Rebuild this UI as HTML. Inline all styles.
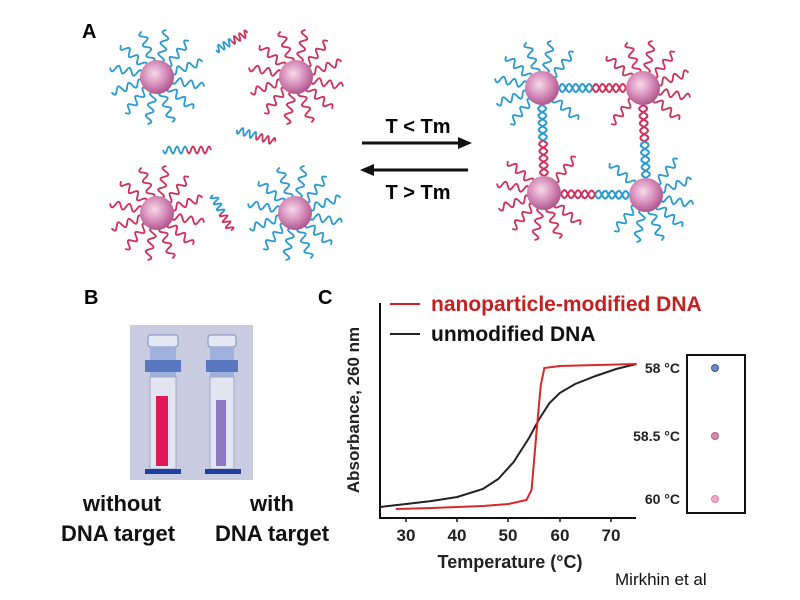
<!DOCTYPE html>
<html><head><meta charset="utf-8"><style>
html,body{margin:0;padding:0;background:#fff;width:800px;height:600px;overflow:hidden}
svg{display:block}
text{font-family:"Liberation Sans",sans-serif}
</style></head><body>
<svg id="s" width="800" height="600" viewBox="0 0 800 600" xmlns="http://www.w3.org/2000/svg">
<defs>
<radialGradient id="pg" cx="0.42" cy="0.4" r="0.6">
<stop offset="0" stop-color="#f6dcea"/><stop offset="0.55" stop-color="#d890bc"/><stop offset="1" stop-color="#b0588e"/>
</radialGradient>
</defs>
<g id="strands"></g>
<g id="parts"></g>
<text x="82" y="38" font-size="20" font-weight="bold">A</text>
<text x="84" y="304" font-size="20" font-weight="bold">B</text>
<text x="318" y="304" font-size="20" font-weight="bold">C</text>
<line x1="362" y1="143" x2="460" y2="143" stroke="#111" stroke-width="3"/>
<polygon points="458,137 472,143 458,149" fill="#111"/>
<line x1="372" y1="170" x2="468" y2="170" stroke="#111" stroke-width="3"/>
<polygon points="374,164 360,170 374,176" fill="#111"/>
<text x="418" y="133" font-size="20" font-weight="bold" text-anchor="middle">T &lt; Tm</text>
<text x="418" y="199" font-size="20" font-weight="bold" text-anchor="middle">T &gt; Tm</text>
<rect x="130" y="325" width="123" height="155" fill="#c9cbe0"/>
<g>
<rect x="148" y="335" width="30" height="12" rx="3" fill="#e4e8f2" stroke="#7a90c0"/>
<rect x="150" y="347" width="26" height="30" fill="#9fb0dc"/>
<rect x="145" y="360" width="36" height="12" fill="#5a78c0"/>
<rect x="150" y="377" width="26" height="92" fill="#e2e4ef" stroke="#a0a8c8"/>
<rect x="156" y="396" width="12" height="70" fill="#e01858"/>
<rect x="145" y="469" width="36" height="5" fill="#2040a0"/>
<rect x="208" y="335" width="28" height="12" rx="3" fill="#e4e8f2" stroke="#7a90c0"/>
<rect x="210" y="347" width="24" height="30" fill="#9fb0dc"/>
<rect x="206" y="360" width="32" height="12" fill="#5a78c0"/>
<rect x="210" y="377" width="24" height="92" fill="#e2e4ef" stroke="#a0a8c8"/>
<rect x="216" y="400" width="10" height="66" fill="#8a78c0"/>
<rect x="205" y="469" width="36" height="5" fill="#2040a0"/>
</g>
<g font-size="22" font-weight="bold" text-anchor="middle" fill="#111">
<text x="122" y="511">without</text>
<text x="118" y="541">DNA target</text>
<text x="272" y="511">with</text>
<text x="272" y="541">DNA target</text>
</g>
<polyline points="380,303 380,518 636,518" fill="none" stroke="#111" stroke-width="2"/>
<g stroke="#111" stroke-width="1.5">
<line x1="406" y1="518" x2="406" y2="522"/><line x1="457" y1="518" x2="457" y2="522"/>
<line x1="508" y1="518" x2="508" y2="522"/><line x1="560" y1="518" x2="560" y2="522"/>
<line x1="611" y1="518" x2="611" y2="522"/>
</g>
<g font-size="17" font-weight="bold" text-anchor="middle" fill="#222">
<text x="406" y="541">30</text><text x="457" y="541">40</text><text x="508" y="541">50</text><text x="560" y="541">60</text><text x="611" y="541">70</text>
<text x="510" y="568" font-size="18">Temperature (°C)</text>
<text transform="translate(359,410) rotate(-90)" font-size="17">Absorbance, 260 nm</text>
</g>
<line x1="390" y1="304" x2="420" y2="304" stroke="#d02020" stroke-width="2"/>
<text x="431" y="311" font-size="21" font-weight="bold" fill="#c42020">nanoparticle-modified DNA</text>
<line x1="390" y1="334" x2="420" y2="334" stroke="#222" stroke-width="2"/>
<text x="431" y="341" font-size="21" font-weight="bold" fill="#111">unmodified DNA</text>
<polyline id="blk" fill="none" stroke="#222" stroke-width="2"/>
<polyline id="red" fill="none" stroke="#d82828" stroke-width="2"/>
<g font-size="14" font-weight="bold" text-anchor="end" fill="#222">
<text x="680" y="373">58 °C</text><text x="680" y="441">58.5 °C</text><text x="680" y="504">60 °C</text>
</g>
<rect x="687" y="355" width="58" height="158" fill="#fff" stroke="#111" stroke-width="2"/>
<circle cx="715" cy="368" r="3.5" fill="#6a8ac8" stroke="#4a5a90"/>
<circle cx="715" cy="436" r="3.5" fill="#d88aa8" stroke="#b06080"/>
<circle cx="715" cy="499" r="3.5" fill="#f0a8c0" stroke="#d888a0"/>
<text x="615" y="585" font-size="17" fill="#111">Mirkhin et al</text>
</svg>
<script>
function X(t){return 406+(t-30)*5.125}
var red=[[28,509],[35,508],[40,507],[45,506],[50,504],[53.5,500],[54.5,490],[55.5,430],[56.3,385],[57,368],[60,366],[75,364]];
var blk=[[25,507],[30,504],[35,501],[40,497],[45,489],[48,479],[51,462],[54,438],[56,419],[58,403],[60,393],[63,384],[67,376],[71,369],[75,364]];
document.getElementById('red').setAttribute('points',red.map(p=>X(p[0])+','+p[1]).join(' '));
document.getElementById('blk').setAttribute('points',blk.map(p=>X(p[0])+','+p[1]).join(' '));
var NS="http://www.w3.org/2000/svg",sg=document.getElementById('strands'),pg=document.getElementById('parts');
var B="#2a9ad0",R="#d0305a";
function wave(x0,y0,ang,len,col,amp){
 var d="",n=40,dx=Math.cos(ang),dy=Math.sin(ang);
 for(var i=0;i<=n;i++){var s=i/n*len,w=amp*Math.sin(s/len*Math.PI*6);
  var x=x0+dx*s-dy*w,y=y0+dy*s+dx*w;d+=(i?"L":"M")+x.toFixed(1)+","+y.toFixed(1);}
 var p=document.createElementNS(NS,'path');p.setAttribute('d',d);p.setAttribute('stroke',col);
 p.setAttribute('fill','none');p.setAttribute('stroke-width','1.8');sg.appendChild(p);}
function particle(cx,cy,col,skip){
 for(var k=0;k<12;k++){var a=k/12*2*Math.PI+0.2;
  var ok=true;(skip||[]).forEach(function(s){var d=Math.abs(((a-s+3*Math.PI)%(2*Math.PI))-Math.PI);if(d<0.35)ok=false;});
  if(!ok)continue;
  wave(cx+Math.cos(a)*15,cy+Math.sin(a)*15,a,33,col,3.5);}
 var c=document.createElementNS(NS,'circle');c.setAttribute('cx',cx);c.setAttribute('cy',cy);c.setAttribute('r',17);
 c.setAttribute('fill','url(#pg)');pg.appendChild(c);}
particle(157,77,B);particle(296,77,R);particle(157,213,R);particle(295,213,B);
function free(x,y,a,len){wave(x,y,a,len/2,B,3.5);wave(x+Math.cos(a)*len/2,y+Math.sin(a)*len/2,a,len/2,R,3.5);}
free(216,50,-0.5,36);free(163,150,0,48);free(237,130,0.3,40);free(213,195,1.1,40);
function helix(x1,y1,x2,y2,c1,c2){
 var L=Math.hypot(x2-x1,y2-y1),dx=(x2-x1)/L,dy=(y2-y1)/L;
 [[c1,0],[c2,0.5]].forEach(function(h,hi){
  for(var part=0;part<2;part++){var d="",col=part?c2:c1;
   for(var i=0;i<=30;i++){var s=(part*0.5+i/30*0.5)*L,w=4*Math.sin(s/L*Math.PI*10+hi*Math.PI);
    var x=x1+dx*s-dy*w,y=y1+dy*s+dx*w;d+=(i?"L":"M")+x.toFixed(1)+","+y.toFixed(1);}
   var p=document.createElementNS(NS,'path');p.setAttribute('d',d);p.setAttribute('stroke',col);
   p.setAttribute('fill','none');p.setAttribute('stroke-width','2');sg.appendChild(p);}});}
helix(559,88,626,88,B,R);helix(542,105,544,176,B,R);helix(643,105,646,178,R,B);helix(561,194,629,195,R,B);
particle(542,88,B,[0,Math.PI/2]);particle(643,88,R,[Math.PI,Math.PI/2]);
particle(544,193,R,[0,-Math.PI/2]);particle(646,195,B,[Math.PI,-Math.PI/2]);
</script>
</body></html>
